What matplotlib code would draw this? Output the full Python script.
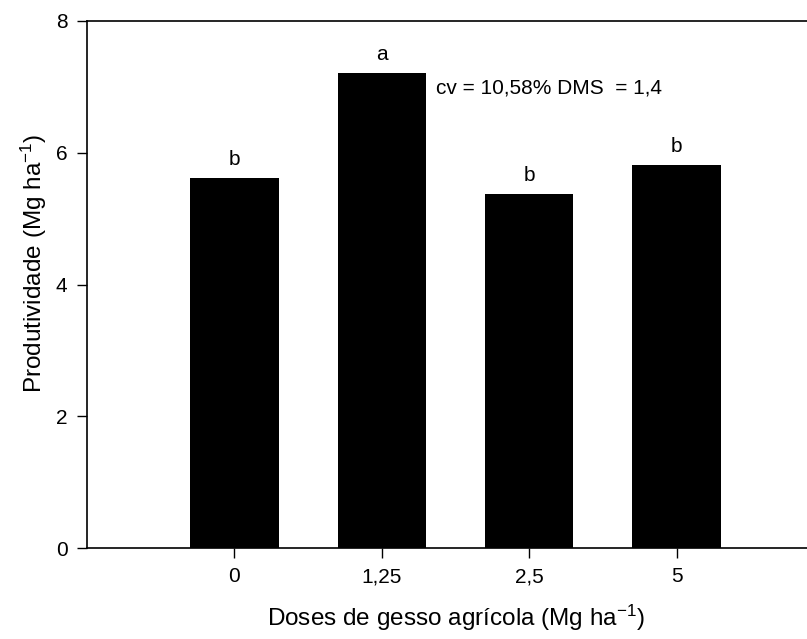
import numpy as np
import matplotlib
matplotlib.use('Agg')
import matplotlib.pyplot as plt

# dados
doses = ['0', '1,25', '2,5', '5']
produtividade = [5.61, 7.21, 5.37, 5.81]
letras = ['b', 'a', 'b', 'b']
nota = 'cv = 10,58% DMS  = 1,4'

plt.rcParams['font.family'] = ['Liberation Sans', 'DejaVu Sans']
plt.rcParams['mathtext.fontset'] = 'custom'
plt.rcParams['mathtext.rm'] = 'Liberation Sans'
plt.rcParams['mathtext.it'] = 'Liberation Sans'
plt.rcParams['mathtext.default'] = 'regular'

fig = plt.figure(figsize=(8.07, 6.39), dpi=100)
ax = fig.add_axes([87 / 807, 91 / 639, 737 / 807, 527 / 639])

x = np.arange(len(doses))
ax.bar(x, produtividade, width=0.6, color='black')

for xi, h, l in zip(x, produtividade, letras):
    ax.text(xi, h + 0.2, l, ha='center', va='baseline', fontsize=15)

ax.text(1.37, 6.98, nota, ha='left', va='center', fontsize=15)

ax.set_xlim(-1, 4)
ax.set_ylim(0, 8)
ax.set_xticks(x)
ax.set_xticklabels(doses)
ax.set_yticks([0, 2, 4, 6, 8])
ax.tick_params(direction='out', length=7, width=1, labelsize=15, pad=7)
ax.spines['right'].set_visible(False)
for s in ['top', 'bottom', 'left']:
    ax.spines[s].set_linewidth(1.2)

ax.set_xlabel('Doses de gesso agrícola (Mg ha$^{-1}$)', fontsize=17.5, labelpad=12)
ax.set_ylabel('Produtividade (Mg ha$^{-1}$)', fontsize=17.5)
ax.yaxis.set_label_coords(-0.052, 0.54)

fig.savefig('out.png', dpi=100)
